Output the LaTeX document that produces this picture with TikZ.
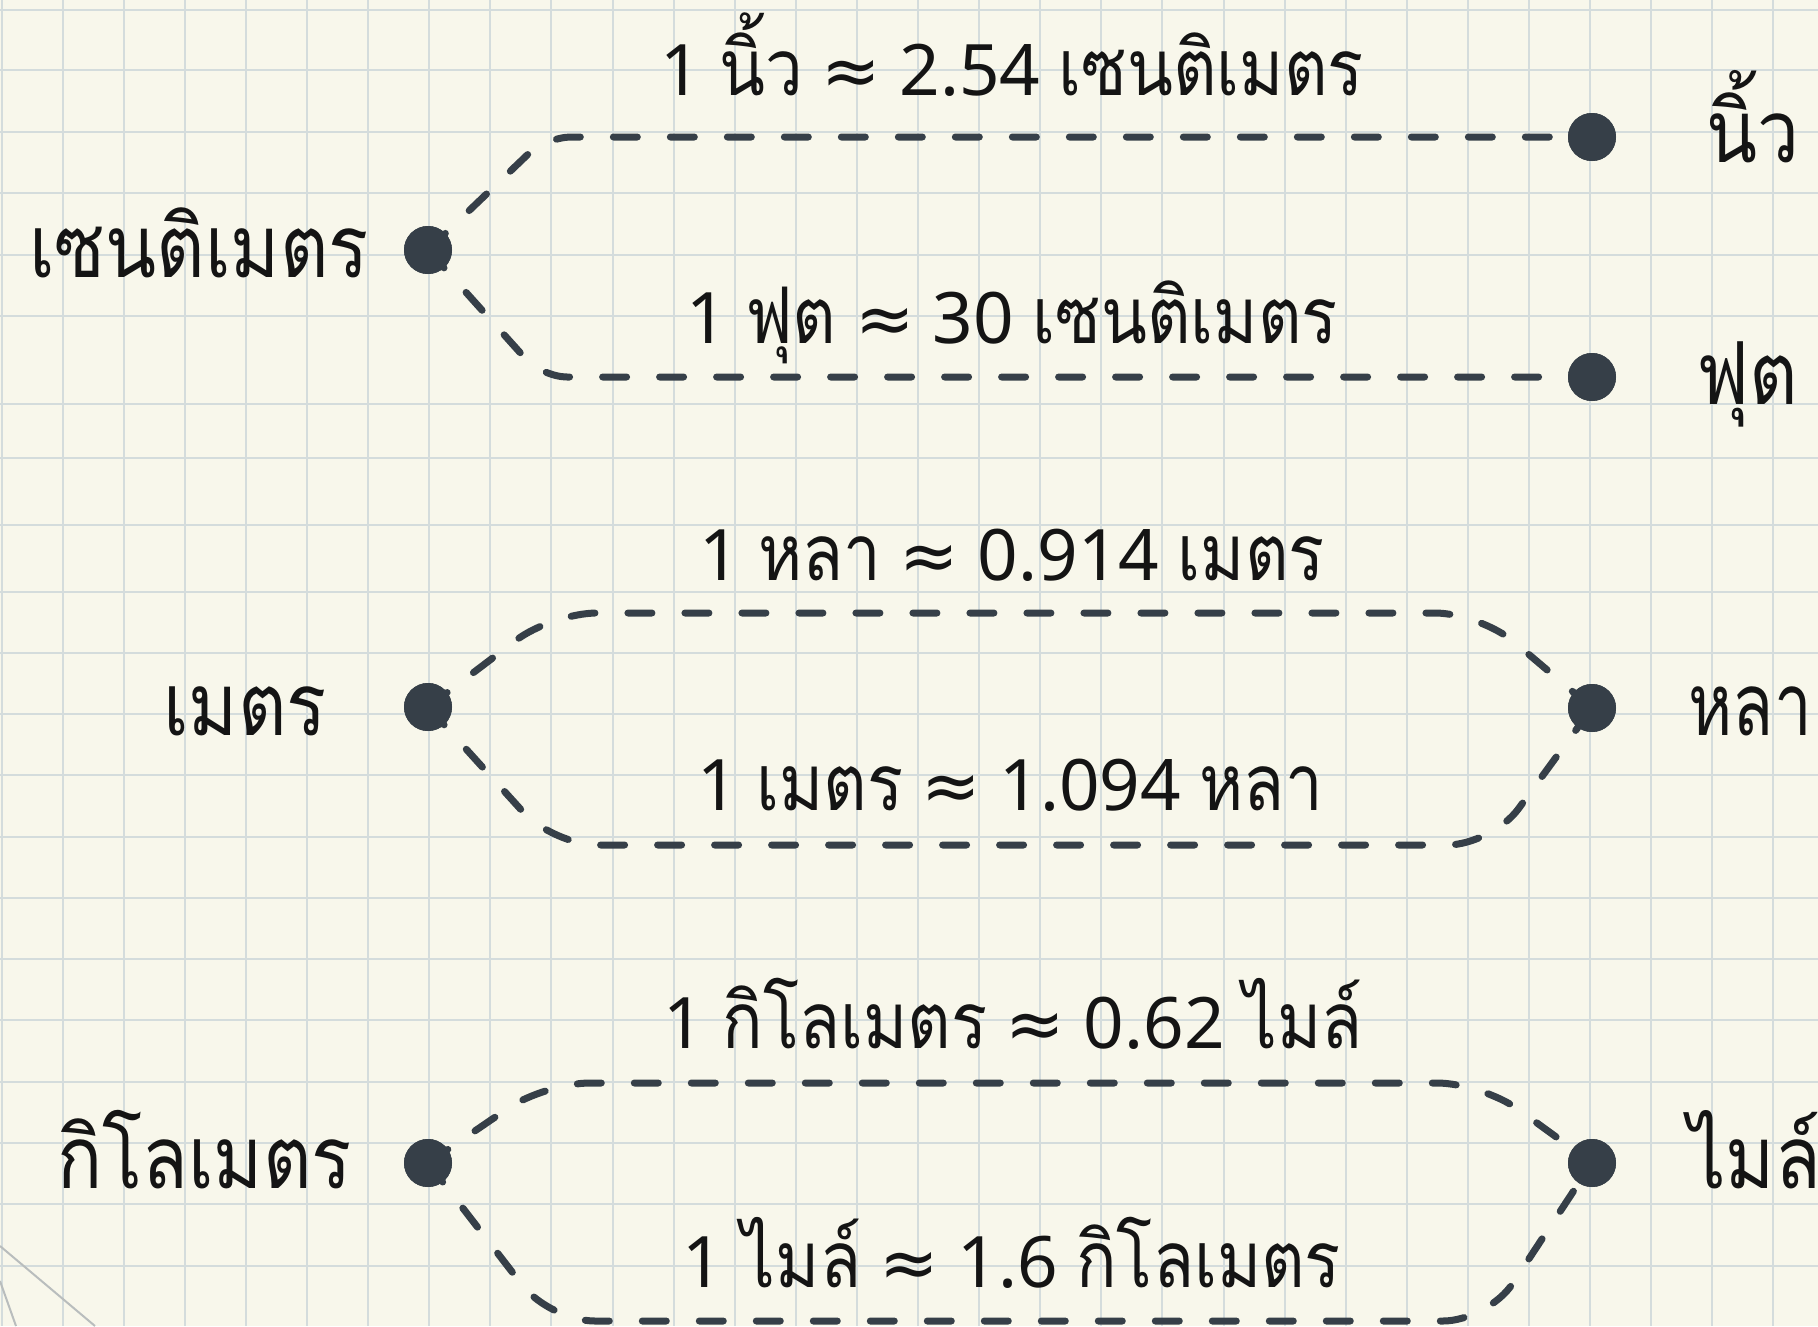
\documentclass[tikz,border=0pt]{standalone}
\usepackage{fontspec}
\setmainfont{Noto Sans}
\newfontfamily\thaifont[Script=Thai,Scale=1.1,FakeStretch=0.86]{Loma}
\newfontfamily\symfont{DejaVu Sans}
\newcommand{\tha}[1]{{\thaifont #1}}
\newcommand{\apx}{{\symfont ≈}}
\definecolor{paper}{HTML}{F8F7EB}
\definecolor{gridc}{HTML}{D4DCDC}
\definecolor{ink}{HTML}{363F48}
\definecolor{txt}{HTML}{141414}
\definecolor{edgec}{HTML}{B9BDBD}
\tikzset{
  gridline/.style={draw=gridc, line width=2pt},
  unitdot/.style={circle, fill=ink, inner sep=0pt, minimum size=48pt},
  conn/.style={draw=ink, line width=7pt, line cap=round, dash pattern=on 24pt off 33pt},
  unitlabel/.style={text=txt, inner sep=0pt, font=\fontsize{79}{90}\selectfont},
  ratiolabel/.style={text=txt, inner sep=0pt, font=\fontsize{71}{82}\selectfont},
}
\begin{document}
\begin{tikzpicture}[x=1pt,y=-1pt]
\useasboundingbox (0,0) rectangle (1818,1326);
\fill[paper] (0,0) rectangle (1818,1326);
% squared paper
\foreach \i in {0,...,29} \draw[gridline] ({1.5+61.1*\i},0) -- ++(0,1326);
\foreach \y in {10,70,132,193,255,316,404,458,525,592,653,714,775,837,898,959,1020,1082,1143,1204,1266}
  \draw[gridline] (0,\y) -- (1818,\y);
% sheet edge in the corner
\draw[edgec, line width=2pt] (0,1246) -- (95,1326);
\draw[edgec, line width=2pt] (0,1281) -- (16,1326);

% unit dots
\node[unitdot] (dCm) at (428,250) {};
\node[unitdot] (dM)  at (428,707) {};
\node[unitdot] (dKm) at (428,1163) {};
\node[unitdot] (dIn) at (1592,137) {};
\node[unitdot] (dFt) at (1592,377) {};
\node[unitdot] (dYd) at (1592,708) {};
\node[unitdot] (dMi) at (1592,1163) {};

% path corners
\coordinate (cmUp) at (546,137);
\coordinate (cmLo) at (542,377);
\coordinate (mUpL) at (552,613);
\coordinate (mUpR) at (1480,613);
\coordinate (mLoL) at (553,845);
\coordinate (mLoR) at (1492,845);
\coordinate (kUpL) at (545,1083);
\coordinate (kUpR) at (1482,1083);
\coordinate (kLoL) at (550,1321);
\coordinate (kLoR) at (1488,1321);

% connectors
\draw[conn, rounded corners=25pt] (dCm.center) -- (cmUp) -- (dIn.center);
\draw[conn, rounded corners=25pt] (dCm.center) -- (cmLo) -- (dFt.center);
\draw[conn, rounded corners=45pt] (dM.center) -- (mUpL) -- (mUpR) -- (dYd.center);
\draw[conn, rounded corners=45pt] (dM.center) -- (mLoL) -- (mLoR) -- (dYd.center);
\draw[conn, rounded corners=45pt] (dKm.center) -- (kUpL) -- (kUpR) -- (dMi.center);
\draw[conn, rounded corners=45pt] (dKm.center) -- (kLoL) -- (kLoR) -- (dMi.center);
% dots drawn over the line ends
\foreach \d in {dCm,dM,dKm,dIn,dFt,dYd,dMi} \fill[ink] (\d) circle (24pt);

% unit names
\node[unitlabel, anchor=base east] (lCm) at (369,277) {\tha{เซนติเมตร}};
\node[unitlabel, anchor=base east] (lM)  at (327,735) {\tha{เมตร}};
\node[unitlabel, anchor=base east] (lKm) at (352,1188) {\tha{กิโลเมตร}};
\node[unitlabel, anchor=base west] (lIn) at (1706,162) {\tha{นิ้ว}};
\node[unitlabel, anchor=base west] (lFt) at (1696,404) {\tha{ฟุต}};
\node[unitlabel, anchor=base east] (lYd) at (1812,735) {\scalebox{0.9}[1]{\tha{หลา}}};
\node[unitlabel, anchor=base west] (lMi) at (1688,1188) {\tha{ไมล์}};

% conversion ratios
\node[ratiolabel, anchor=base] (rInCm) at (1012,95)  {1 \tha{นิ้ว} \apx{} 2.54 \tha{เซนติเมตร}};
\node[ratiolabel, anchor=base] (rFtCm) at (1012,343) {1 \tha{ฟุต} \apx{} 30 \tha{เซนติเมตร}};
\node[ratiolabel, anchor=base] (rYdM)  at (1012,580) {1 \tha{หลา} \apx{} 0.914 \tha{เมตร}};
\node[ratiolabel, anchor=base] (rMYd)  at (1010,810) {1 \tha{เมตร} \apx{} 1.094 \tha{หลา}};
\node[ratiolabel, anchor=base] (rKmMi) at (1013,1048) {1 \tha{กิโลเมตร} \apx{} 0.62 \tha{ไมล์}};
\node[ratiolabel, anchor=base] (rMiKm) at (1012,1287) {1 \tha{ไมล์} \apx{} 1.6 \tha{กิโลเมตร}};
\end{tikzpicture}
\end{document}
